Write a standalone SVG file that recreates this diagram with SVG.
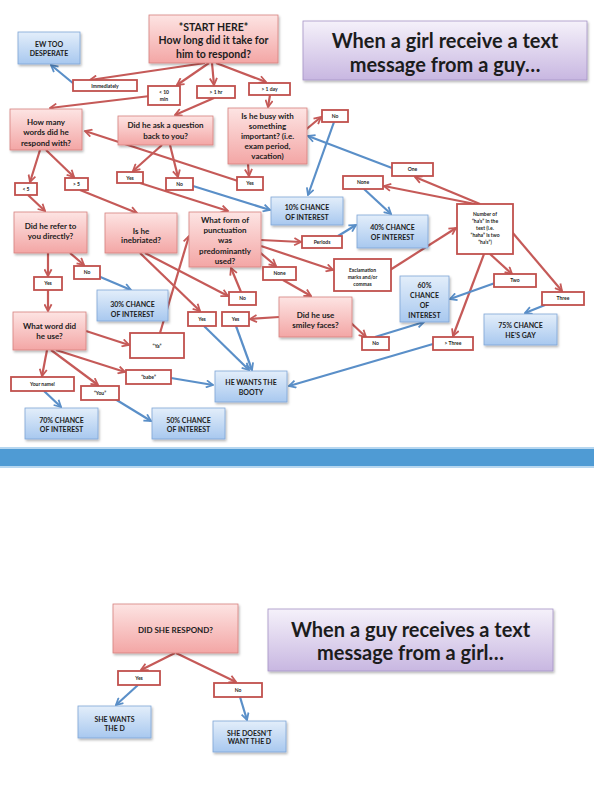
<svg xmlns="http://www.w3.org/2000/svg" width="594" height="791" viewBox="0 0 594 791">
<defs>
<linearGradient id="gPink" x1="0" y1="0" x2="0" y2="1"><stop offset="0" stop-color="#fde4e3"/><stop offset="1" stop-color="#f3a6a5"/></linearGradient>
<linearGradient id="gBlue" x1="0" y1="0" x2="0" y2="1"><stop offset="0" stop-color="#e3eefa"/><stop offset="1" stop-color="#a8c8ef"/></linearGradient>
<linearGradient id="gPurp" x1="0" y1="0" x2="0" y2="1"><stop offset="0" stop-color="#f5f1fa"/><stop offset="1" stop-color="#c8b7e1"/></linearGradient>
<filter id="sh" x="-10%" y="-10%" width="130%" height="140%"><feDropShadow dx="1.2" dy="1.8" stdDeviation="1.2" flood-color="#000" flood-opacity="0.28"/></filter>
<marker id="ar" viewBox="0 0 10 10" refX="8.5" refY="5" markerWidth="9" markerHeight="9" markerUnits="userSpaceOnUse" orient="auto"><path d="M1,1 L8.5,5 L1,9" fill="none" stroke="#c55a58" stroke-width="2"/></marker>
<marker id="ab" viewBox="0 0 10 10" refX="8.5" refY="5" markerWidth="9" markerHeight="9" markerUnits="userSpaceOnUse" orient="auto"><path d="M1,1 L8.5,5 L1,9" fill="none" stroke="#5a8fc8" stroke-width="2"/></marker>
<style>
.pk{fill:url(#gPink);stroke:#d6807e;stroke-width:0.8;filter:url(#sh)}
.bl{fill:url(#gBlue);stroke:#7ea5d6;stroke-width:0.8;filter:url(#sh)}
.pu{fill:url(#gPurp);stroke:#a593c6;stroke-width:0.8;filter:url(#sh)}
.lb{fill:#fff;stroke:#c0504d;stroke-width:1.8}
text{font-family:Lato,"Open Sans","Liberation Sans",sans-serif;font-weight:bold;fill:#1c1c1c;text-anchor:middle}
.s20{font-size:20px}
.s11{font-size:10.5px}
.s8{font-size:8px}
.s7{font-size:7px}
.s5{font-size:5px}
.r{stroke:#c55a58;stroke-width:2.2;fill:none;marker-end:url(#ar)}
.b{stroke:#5a8fc8;stroke-width:2.2;fill:none;marker-end:url(#ab)}
</style>
</defs>
<rect width="594" height="791" fill="#fff"/>
<g id="band">
<rect x="0" y="447" width="594" height="21" fill="#b7d7f0"/>
<rect x="0" y="449" width="594" height="17" fill="#4f9bd4"/>
</g>
<g id="connectors">
<path class="r" d="M205,63 L90,80"/>
<path class="r" d="M209,63 L177,85"/>
<path class="r" d="M212,63 L214,85"/>
<path class="r" d="M216,63 L266,82"/>
<path class="r" d="M150,96 L50,108"/>
<path class="r" d="M214,98 L175,115"/>
<path class="r" d="M270,95 L268,107"/>
<path class="r" d="M303,132 L321,117"/>
<path class="r" d="M248,164 L249,176"/>
<path class="r" d="M238,181 L85,131"/>
<path class="r" d="M162,145 L133,171"/>
<path class="r" d="M170,145 L178,177"/>
<path class="r" d="M140,183 L228,211"/>
<path class="r" d="M40,150 L30,182"/>
<path class="r" d="M46,150 L74,177"/>
<path class="r" d="M28,195 L45,211"/>
<path class="r" d="M80,190 L137,213"/>
<path class="r" d="M48,253 L48,276"/>
<path class="r" d="M70,253 L84,265"/>
<path class="r" d="M48,290 L48,311"/>
<path class="r" d="M86,331 L129,345"/>
<path class="r" d="M47,350 L42,376"/>
<path class="r" d="M51,350 L98,385"/>
<path class="r" d="M56,350 L125,372"/>
<path class="r" d="M160,333 L189,236"/>
<path class="r" d="M145,253 L228,296"/>
<path class="r" d="M140,253 L200,311"/>
<path class="r" d="M241,292 L231,268"/>
<path class="r" d="M261,240 L301,242"/>
<path class="r" d="M261,246 L333,270"/>
<path class="r" d="M257,250 L276,266"/>
<path class="r" d="M283,280 L311,296"/>
<path class="r" d="M279,317 L250,319"/>
<path class="r" d="M350,322 L366,337"/>
<path class="r" d="M390,270 L456,228"/>
<path class="r" d="M480,204 L415,177"/>
<path class="r" d="M475,204 L384,186"/>
<path class="r" d="M490,254 L512,274"/>
<path class="r" d="M512,232 L562,291"/>
<path class="r" d="M484,254 L453,336"/>
<path class="r" d="M175,653 L141,670"/>
<path class="r" d="M176,653 L236,682"/>
<path class="b" d="M74,84 L51,65"/>
<path class="b" d="M334,122 L308,195"/>
<path class="b" d="M193,186 L270,210"/>
<path class="b" d="M392,168 L308,136"/>
<path class="b" d="M364,189 L391,214"/>
<path class="b" d="M338,236 L356,225"/>
<path class="b" d="M98,276 L131,290"/>
<path class="b" d="M44,391 L61,407"/>
<path class="b" d="M115,399 L151,421"/>
<path class="b" d="M171,378 L213,385"/>
<path class="b" d="M204,326 L249,370"/>
<path class="b" d="M236,326 L252,370"/>
<path class="b" d="M375,337 L424,322"/>
<path class="b" d="M495,283 L450,299"/>
<path class="b" d="M545,305 L525,313"/>
<path class="b" d="M433,344 L289,386"/>
<path class="b" d="M138,685 L116,705"/>
<path class="b" d="M240,697 L247,720"/>
</g>
<g id="title1"><rect class="pu" x="303" y="21" width="284" height="59"/><text class="s20" x="445" y="48">When a girl receive a text</text><text class="s20" x="445" y="72">message from a guy…</text></g>
<g id="start"><rect class="pk" x="149" y="15" width="129" height="48"/><text class="s11" x="213.5" y="30.5">*START HERE*</text><text class="s11" x="213.5" y="44">How long did it take for</text><text class="s11" x="213.5" y="57.5">him to respond?</text></g>
<g id="ew"><rect class="bl" x="18" y="32" width="62" height="32"/><text class="s7" x="49" y="46.5">EW TOO</text><text class="s7" x="49" y="56">DESPERATE</text></g>
<g id="l_imm"><rect class="lb" x="73" y="80" width="64" height="11"/><text class="s5" x="105" y="87.5">Immediately</text></g>
<g id="l_10"><rect class="lb" x="148" y="86" width="32" height="19"/><text class="s5" x="164" y="93.5">&lt; 10</text><text class="s5" x="164" y="100.5">min</text></g>
<g id="l_1hr"><rect class="lb" x="197" y="86" width="38" height="12"/><text class="s5" x="216" y="93.8">&gt; 1 hr</text></g>
<g id="l_1day"><rect class="lb" x="249" y="83" width="41" height="12"/><text class="s5" x="269.5" y="90.8">&gt; 1 day</text></g>
<g id="howmany"><rect class="pk" x="10" y="109" width="72" height="41"/><text class="s8" x="46" y="124.5">How many</text><text class="s8" x="46" y="135">words did he</text><text class="s8" x="46" y="145.5">respond with?</text></g>
<g id="ask"><rect class="pk" x="118" y="116" width="95" height="29"/><text class="s8" x="165.5" y="128">Did he ask a question</text><text class="s8" x="165.5" y="138.5">back to you?</text></g>
<g id="busy"><rect class="pk" x="228" y="108" width="79" height="56"/><text class="s8" x="267.5" y="118.5">Is he busy with</text><text class="s8" x="267.5" y="128.5">something</text><text class="s8" x="267.5" y="138.5">important? (i.e.</text><text class="s8" x="267.5" y="148.5">exam period,</text><text class="s8" x="267.5" y="158.5">vacation)</text></g>
<g id="l_busyNo"><rect class="lb" x="322" y="110" width="26" height="12"/><text class="s5" x="335" y="117.8">No</text></g>
<g id="l_askYes"><rect class="lb" x="117" y="172" width="26" height="11"/><text class="s5" x="130" y="179.5">Yes</text></g>
<g id="l_askNo"><rect class="lb" x="166" y="178" width="27" height="12"/><text class="s5" x="179.5" y="185.8">No</text></g>
<g id="l_busyYes"><rect class="lb" x="237" y="177" width="26" height="13"/><text class="s5" x="250" y="185.3">Yes</text></g>
<g id="l_lt5"><rect class="lb" x="15" y="183" width="22" height="12"/><text class="s5" x="26" y="190.8">&lt; 5</text></g>
<g id="l_gt5"><rect class="lb" x="65" y="178" width="23" height="12"/><text class="s5" x="76.5" y="185.8">&gt; 5</text></g>
<g id="n10"><rect class="bl" x="271" y="197" width="72" height="28"/><text class="s7" x="307" y="210">10% CHANCE</text><text class="s7" x="307" y="220">OF INTEREST</text></g>
<g id="l_one"><rect class="lb" x="392" y="163" width="41" height="13"/><text class="s5" x="412.5" y="171.3">One</text></g>
<g id="l_none1"><rect class="lb" x="343" y="176" width="40" height="13"/><text class="s5" x="363" y="184.3">None</text></g>
<g id="number"><rect class="lb" x="457" y="204" width="56" height="50"/><text class="s5" x="485" y="216">Number of</text><text class="s5" x="485" y="223">“ha’s” in the</text><text class="s5" x="485" y="230">text (i.e.</text><text class="s5" x="485" y="237">“haha” is two</text><text class="s5" x="485" y="244">“ha’s”)</text></g>
<g id="n40"><rect class="bl" x="357" y="215" width="71" height="33"/><text class="s7" x="392.5" y="229.5">40% CHANCE</text><text class="s7" x="392.5" y="239.5">OF INTEREST</text></g>
<g id="refer"><rect class="pk" x="14" y="212" width="73" height="41"/><text class="s8" x="50.5" y="229">Did he refer to</text><text class="s8" x="50.5" y="239">you directly?</text></g>
<g id="ineb"><rect class="pk" x="105" y="213" width="72" height="40"/><text class="s8" x="141" y="233.5">Is he</text><text class="s8" x="141" y="243">inebriated?</text></g>
<g id="punct"><rect class="pk" x="189" y="212" width="72" height="55"/><text class="s8" x="225" y="223">What form of</text><text class="s8" x="225" y="233">punctuation</text><text class="s8" x="225" y="243">was</text><text class="s8" x="225" y="253.5">predominantly</text><text class="s8" x="225" y="263.5">used?</text></g>
<g id="l_periods"><rect class="lb" x="302" y="236" width="40" height="12"/><text class="s5" x="322" y="243.8">Periods</text></g>
<g id="l_excl"><rect class="lb" x="334" y="259" width="57" height="32"/><text class="s5" x="362.5" y="272">Exclamation</text><text class="s5" x="362.5" y="279">marks and/or</text><text class="s5" x="362.5" y="286">commas</text></g>
<g id="l_none2"><rect class="lb" x="263" y="267" width="33" height="13"/><text class="s5" x="279.5" y="275.3">None</text></g>
<g id="l_inebNo"><rect class="lb" x="229" y="292" width="27" height="13"/><text class="s5" x="242.5" y="300.3">No</text></g>
<g id="l_yes1"><rect class="lb" x="188" y="312" width="28" height="14"/><text class="s5" x="202" y="320.8">Yes</text></g>
<g id="l_yes2"><rect class="lb" x="222" y="312" width="27" height="14"/><text class="s5" x="235.5" y="320.8">Yes</text></g>
<g id="l_referNo"><rect class="lb" x="74" y="266" width="26" height="13"/><text class="s5" x="87" y="274.3">No</text></g>
<g id="l_referYes"><rect class="lb" x="34" y="277" width="28" height="13"/><text class="s5" x="48" y="285.3">Yes</text></g>
<g id="n30"><rect class="bl" x="97" y="290" width="71" height="31"/><text class="s7" x="132.5" y="307">30% CHANCE</text><text class="s7" x="132.5" y="317">OF INTEREST</text></g>
<g id="smiley"><rect class="pk" x="279" y="297" width="73" height="40"/><text class="s8" x="315.5" y="317.5">Did he use</text><text class="s8" x="315.5" y="327.5">smiley faces?</text></g>
<g id="l_two"><rect class="lb" x="494" y="274" width="42" height="13"/><text class="s5" x="515" y="282.3">Two</text></g>
<g id="l_three"><rect class="lb" x="542" y="292" width="42" height="13"/><text class="s5" x="563" y="300.3">Three</text></g>
<g id="n60"><rect class="bl" x="400" y="276" width="49" height="46"/><text class="s7" x="424.5" y="287.5">60%</text><text class="s7" x="424.5" y="297.5">CHANCE</text><text class="s7" x="424.5" y="308">OF</text><text class="s7" x="424.5" y="317.5">INTEREST</text></g>
<g id="n75"><rect class="bl" x="484" y="314" width="73" height="31"/><text class="s7" x="520.5" y="327.5">75% CHANCE</text><text class="s7" x="520.5" y="337.5">HE’S GAY</text></g>
<g id="l_smNo"><rect class="lb" x="362" y="337" width="27" height="13"/><text class="s5" x="375.5" y="345.3">No</text></g>
<g id="l_gt3"><rect class="lb" x="433" y="337" width="40" height="13"/><text class="s5" x="453" y="345.3">&gt; Three</text></g>
<g id="word"><rect class="pk" x="13" y="312" width="73" height="38"/><text class="s8" x="49.5" y="329">What word did</text><text class="s8" x="49.5" y="338.5">he use?</text></g>
<g id="l_ya"><rect class="lb" x="130" y="333" width="54" height="25"/><text class="s5" x="157" y="347.5">“Ya”</text></g>
<g id="l_babe"><rect class="lb" x="126" y="370" width="45" height="14"/><text class="s5" x="148.5" y="378.8">“babe”</text></g>
<g id="l_name"><rect class="lb" x="11" y="377" width="63" height="14"/><text class="s5" x="42.5" y="385.8">Your name!</text></g>
<g id="l_you"><rect class="lb" x="81" y="386" width="38" height="14"/><text class="s5" x="100" y="394.8">“You”</text></g>
<g id="booty"><rect class="bl" x="215" y="371" width="72" height="31"/><text class="s7" x="251" y="385">HE WANTS THE</text><text class="s7" x="251" y="395">BOOTY</text></g>
<g id="n70"><rect class="bl" x="25" y="408" width="73" height="31"/><text class="s7" x="61.5" y="422.5">70% CHANCE</text><text class="s7" x="61.5" y="432">OF INTEREST</text></g>
<g id="n50"><rect class="bl" x="152" y="408" width="73" height="31"/><text class="s7" x="188.5" y="422.5">50% CHANCE</text><text class="s7" x="188.5" y="432">OF INTEREST</text></g>
<g id="dsr"><rect class="pk" x="113" y="604" width="125" height="49"/><text class="s8" x="175.5" y="633">DID SHE RESPOND?</text></g>
<g id="title2"><rect class="pu" x="268" y="609" width="285" height="62"/><text class="s20" x="410.5" y="637">When a guy receives a text</text><text class="s20" x="410.5" y="660">message from a girl…</text></g>
<g id="l_yes3"><rect class="lb" x="118" y="671" width="42" height="14"/><text class="s5" x="139" y="679.8">Yes</text></g>
<g id="l_no3"><rect class="lb" x="214" y="683" width="48" height="14"/><text class="s5" x="238" y="691.8">No</text></g>
<g id="shew"><rect class="bl" x="78" y="706" width="73" height="32"/><text class="s7" x="114.5" y="722">SHE WANTS</text><text class="s7" x="114.5" y="730.5">THE D</text></g>
<g id="shedn"><rect class="bl" x="213" y="721" width="73" height="31"/><text class="s7" x="249.5" y="735.5">SHE DOESN’T</text><text class="s7" x="249.5" y="744">WANT THE D</text></g>
</svg>
